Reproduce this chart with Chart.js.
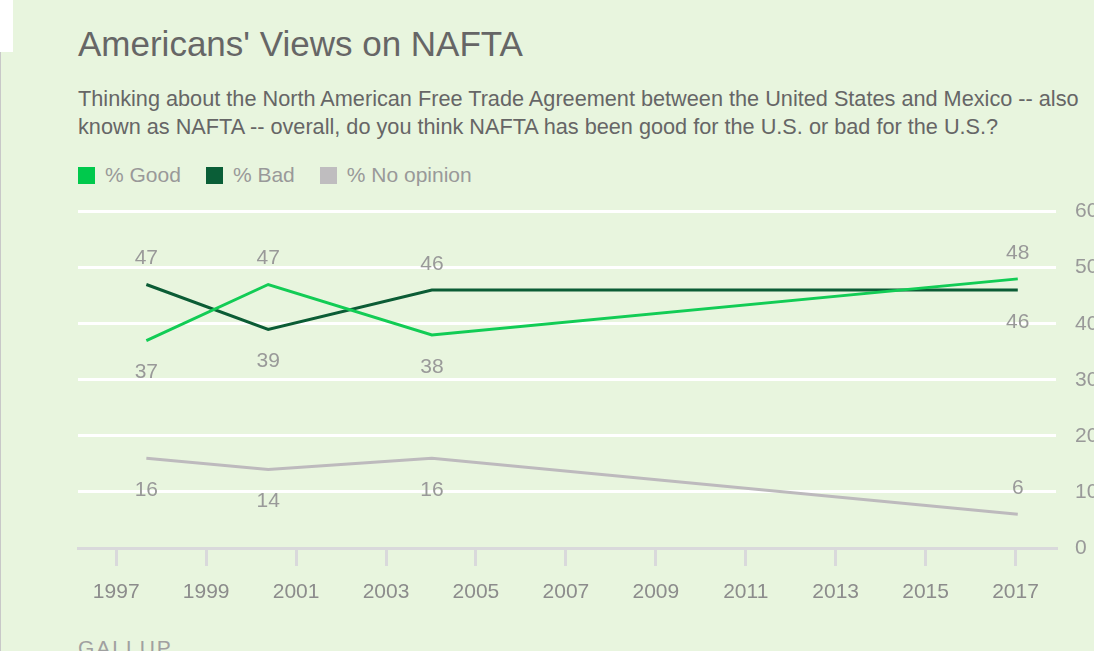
<!DOCTYPE html>
<html>
<head>
<meta charset="utf-8">
<script src="https://cdn.jsdelivr.net/npm/chart.js@4.4.1/dist/chart.umd.min.js"></script>
<style>
    html, body { margin: 0; padding: 0; }
    body {
        width: 1094px; height: 651px; overflow: hidden; position: relative;
        background: #e8f5de; font-family: "Liberation Sans", Arial, sans-serif;
    }
    #corner { position: absolute; left: 0; top: 0; width: 13px; height: 52px; background: #fff; }
    #edge { position: absolute; left: 0; top: 52px; width: 1px; height: 600px; background: #c8c8c8; }
    #title { position: absolute; left: 78px; top: 24px; font-size: 35px; color: #666; white-space: nowrap; }
    #subtitle { position: absolute; left: 78px; top: 85px; font-size: 21.7px; line-height: 28px; color: #666; white-space: nowrap; }
    #legend { position: absolute; left: 78px; top: 163px; height: 24px; display: flex; align-items: center; white-space: nowrap; }
    #legend .item { display: flex; align-items: center; margin-right: 25px; font-size: 21px; color: #999; }
    #legend .box { width: 17px; height: 17px; margin-right: 10px; }
    #footer { position: absolute; left: 78px; top: 636px; font-size: 21px; color: #a0a0a0; letter-spacing: 2px; }
    #chart-wrap { position: absolute; left: 0; top: 180px; width: 1130px; height: 471px; }
</style>
</head>
<body>
<div id="corner"></div>
<div id="edge"></div>
<div id="title">Americans' Views on NAFTA</div>
<div id="subtitle">Thinking about the North American Free Trade Agreement between the United States and Mexico -- also<br>known as NAFTA -- overall, do you think NAFTA has been good for the U.S. or bad for the U.S.?</div>
<div id="legend"></div>
<div id="footer">GALLUP</div>
<div id="chart-wrap"><canvas id="nafta-chart" width="1130" height="471"></canvas></div>

<script>
    // survey dates (fractional year) and results in %
    var surveyYears = [1997.67, 2000.38, 2004.02, 2017.05];
    var good = [37, 47, 38, 48];
    var bad = [47, 39, 46, 46];
    var noOpinion = [16, 14, 16, 6];

    // axis ticks
    var yearTicks = [1997, 1999, 2001, 2003, 2005, 2007, 2009, 2011, 2013, 2015, 2017];
    var valueTicks = [0, 10, 20, 30, 40, 50, 60];

    var toPoints = function (values) {
        return values.map((v, i) => ({ x: surveyYears[i], y: v }));
    };

    // draws the value next to each point, above or below
    var valueLabels = {
        id: "valueLabels",
        afterDatasetsDraw: function (chart) {
            const ctx = chart.ctx;
            ctx.save();
            ctx.font = "21px 'Liberation Sans', Arial, sans-serif";
            ctx.fillStyle = "#999999";
            ctx.textAlign = "center";
            ctx.textBaseline = "middle";
            chart.data.datasets.forEach((ds, di) => {
                const meta = chart.getDatasetMeta(di);
                meta.data.forEach((pt, i) => {
                    const dy = ds.labelSides[i] === "above" ? -26 : 32;
                    ctx.fillText(String(ds.data[i].y), pt.x, pt.y + dy);
                });
            });
            ctx.restore();
        }
    };

    var ctx = document.getElementById("nafta-chart").getContext("2d");
    var myChart = new Chart(ctx, {
        type: "line",
        data: {
            datasets: [{
                label: "% Good",
                data: toPoints(good),
                borderColor: "#12cc55",
                backgroundColor: "#00c94c",
                borderWidth: 3,
                labelSides: ["below", "above", "below", "above"]
            }, {
                label: "% Bad",
                data: toPoints(bad),
                borderColor: "#0b5c35",
                backgroundColor: "#0a5e37",
                borderWidth: 3,
                labelSides: ["above", "below", "above", "below"]
            }, {
                label: "% No opinion",
                data: toPoints(noOpinion),
                borderColor: "#bdbabd",
                backgroundColor: "#bfbdbf",
                borderWidth: 3,
                labelSides: ["below", "below", "below", "above"]
            }]
        },
        options: {
            responsive: false,
            animation: false,
            layout: { padding: { left: 78, right: 0, top: 11, bottom: 0 } },
            elements: { point: { radius: 0, hoverRadius: 0 }, line: { tension: 0 } },
            plugins: {
                tooltip: { enabled: false },
                legend: { display: false }
            },
            scales: {
                x: {
                    type: "linear",
                    min: 1996.15,
                    max: 2017.9,
                    afterBuildTicks: function (scale) {
                        scale.ticks = yearTicks.map(v => ({ value: v }));
                    },
                    afterFit: function (scale) {
                        scale.height = 103;
                    },
                    grid: {
                        drawOnChartArea: false,
                        drawTicks: true,
                        tickLength: 18,
                        color: "#d9d9db",
                        lineWidth: 3
                    },
                    border: { display: true, color: "#d9d9db", width: 3 },
                    ticks: {
                        padding: 14,
                        maxRotation: 0,
                        autoSkip: false,
                        color: "#8c8c8c",
                        font: { family: "'Liberation Sans', Arial, sans-serif", size: 21 },
                        callback: function (value) { return String(value); }
                    }
                },
                y: {
                    position: "right",
                    min: 0,
                    max: 60,
                    afterBuildTicks: function (scale) {
                        scale.ticks = valueTicks.map(v => ({ value: v }));
                    },
                    afterFit: function (scale) {
                        scale.width = 74;
                    },
                    grid: {
                        drawTicks: false,
                        lineWidth: 3,
                        color: function (c) { return c.tick && c.tick.value === 0 ? "rgba(0,0,0,0)" : "#ffffff"; }
                    },
                    border: { display: false },
                    ticks: {
                        padding: 19,
                        color: "#999999",
                        font: { family: "'Liberation Sans', Arial, sans-serif", size: 21 }
                    }
                }
            }
        },
        plugins: [valueLabels]
    });

    // legend built from the chart's own datasets
    var legendEl = document.getElementById("legend");
    myChart.data.datasets.forEach(ds => {
        const item = document.createElement("div");
        item.className = "item";
        const box = document.createElement("span");
        box.className = "box";
        box.style.background = ds.backgroundColor;
        item.appendChild(box);
        item.appendChild(document.createTextNode(ds.label));
        legendEl.appendChild(item);
    });
</script>
</body>
</html>
